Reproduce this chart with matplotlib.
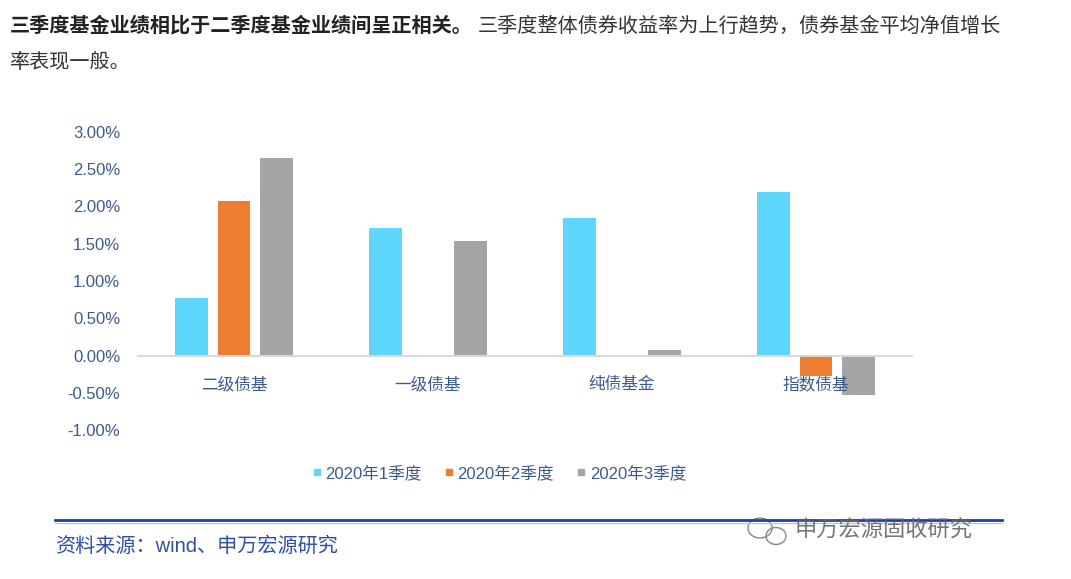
import matplotlib
matplotlib.use('Agg')
import matplotlib.pyplot as plt
import matplotlib.patches as patches
from matplotlib.lines import Line2D
import numpy as np

plt.rcParams['font.family'] = ['Liberation Sans', 'Noto Sans CJK SC', 'DejaVu Sans']

# 数据
categories = ['二级债基', '一级债基', '纯债基金', '指数债基']
series_names = ['2020年1季度', '2020年2季度', '2020年3季度']
q1 = [0.77, 1.71, 1.85, 2.19]
q2 = [2.08, 0.0, 0.0, -0.28]
q3 = [2.65, 1.54, 0.07, -0.53]
colors = ['#5fd7fc', '#ed7d31', '#a5a5a5']
y_ticks = [-1.0, -0.5, 0.0, 0.5, 1.0, 1.5, 2.0, 2.5, 3.0]

title_bold = '三季度基金业绩相比于二季度基金业绩间呈正相关。'
title_rest = '三季度整体债券收益率为上行趋势，债券基金平均净值增长'
title_line2 = '率表现一般。'
source = '资料来源：wind、申万宏源研究'
watermark = '申万宏源固收研究'

W, H = 1071, 579
fig = plt.figure(figsize=(W / 100, H / 100), dpi=100)
ax = fig.add_axes([137 / W, 1 - 430 / H, (913 - 137) / W, (430 - 132) / H])

x = np.arange(len(categories))
width = 0.17
step = 0.22
for i, vals in enumerate([q1, q2, q3]):
    ax.bar(x + (i - 1) * step, vals, width, color=colors[i], zorder=2)

ax.axhline(0, color='#d9d9d9', lw=1.5, zorder=3)
ax.set_xlim(-0.5, 3.5)
ax.set_ylim(-1.0, 3.0)
ax.set_yticks(y_ticks)
ax.set_yticklabels(['%.2f%%' % v for v in y_ticks])
ax.set_xticks([])
ax.tick_params(axis='y', length=0, pad=12, labelsize=12, labelcolor='#3d5a8c')
for s in ax.spines.values():
    s.set_visible(False)

# 分类标签放在零线下方
for xi, lab in zip(x, categories):
    ax.annotate(lab, (xi, 0), xytext=(0, -21), textcoords='offset points',
                ha='center', va='center', fontsize=12, color='#3d5a8c', zorder=6)

# 图例
handles = [Line2D([], [], ls='none', marker='s', markersize=5, color=c) for c in colors]
fig.legend(handles, series_names, loc='center', bbox_to_anchor=(499 / W, 1 - 473 / H),
           ncol=3, frameon=False, fontsize=12, handlelength=0.6, handletextpad=0.2,
           columnspacing=1.35, labelcolor='#3d5a8c')

# 标题文字
fig.text(10 / W, 1 - 26 / H, title_bold, fontsize=14.5, fontweight='bold',
         color='#222222', va='center', ha='left')
fig.text(478 / W, 1 - 26 / H, title_rest, fontsize=14.5, color='#333333',
         va='center', ha='left')
fig.text(10 / W, 1 - 62 / H, title_line2, fontsize=14.5, color='#333333',
         va='center', ha='left')

# 底部蓝线和来源
fig.add_artist(Line2D([55 / W, 1002 / W], [1 - 520 / H, 1 - 520 / H],
                      color='#1f3fa8', lw=2))
fig.add_artist(Line2D([55 / W, 1002 / W], [1 - 522.5 / H, 1 - 522.5 / H],
                      color='#b8c6ea', lw=1))
fig.text(55 / W, 1 - 546 / H, source, fontsize=14.5, color='#2f4fa8',
         va='center', ha='left')

# 水印
fig.add_artist(patches.Ellipse((760 / W, 1 - 528 / H), 24 / W, 20 / H,
                               fill=False, ec='#888888', lw=1))
fig.add_artist(patches.Ellipse((776 / W, 1 - 536 / H), 20 / W, 17 / H,
                               fill=False, ec='#888888', lw=1, fc='white'))
fig.text(795 / W, 1 - 531 / H, watermark, fontsize=16, color='#666666',
         va='center', ha='left', alpha=0.9)

fig.savefig('out.png', dpi=100)
